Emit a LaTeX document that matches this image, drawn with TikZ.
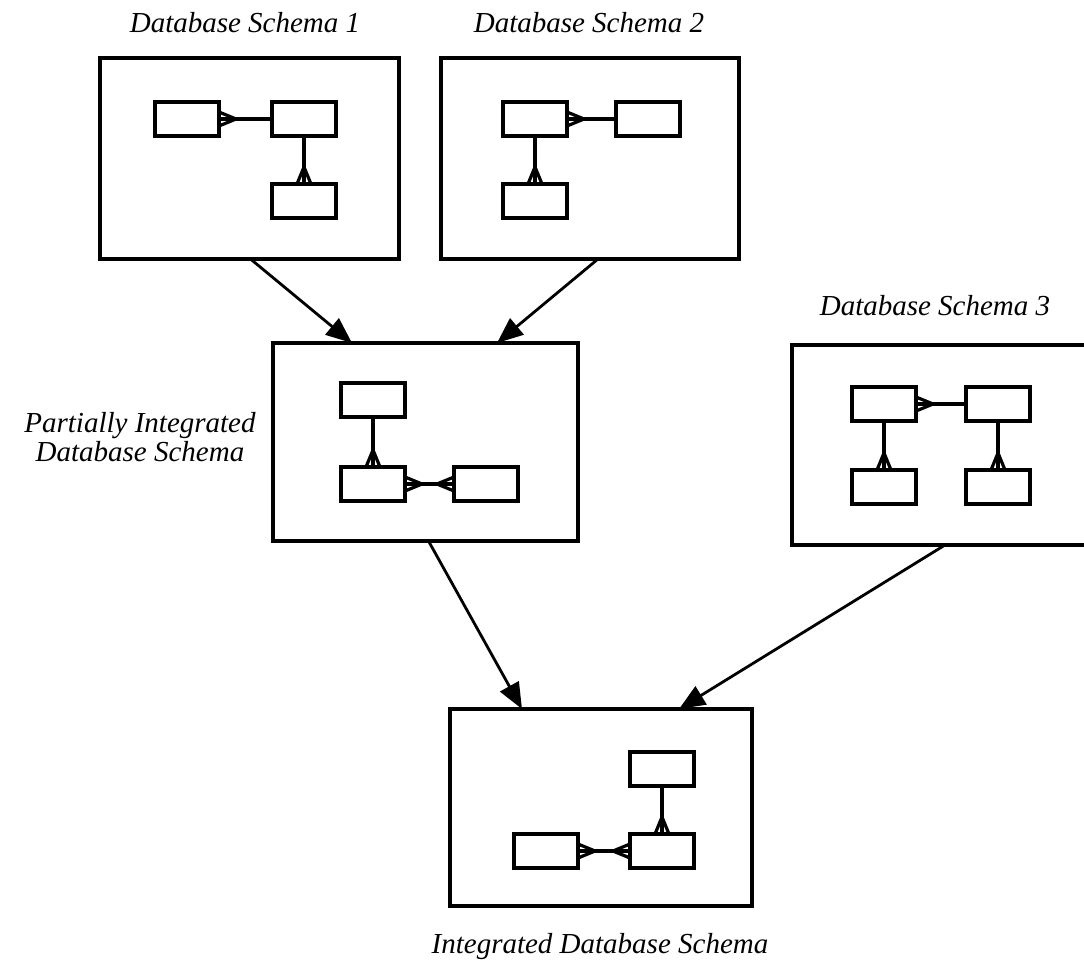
\documentclass[tikz,border=0pt]{standalone}
\usepackage{fontspec}
\setmainfont{Liberation Serif}
\usetikzlibrary{calc,arrows.meta}

% crow's foot: #1 anchor on the box, #2 offset to the tip, #3 half spread
\newcommand{\crowfoot}[3]{%
  \draw[relline] ($#1+#2$) -- ($#1+#3$) ($#1+#2$) -- ($#1-#3$);}

\begin{document}
\begin{tikzpicture}[x=1pt,y=-1pt,
  schemabox/.style={draw, line width=3.4pt, inner sep=0pt, outer sep=0pt},
  entity/.style={draw, line width=3.4pt, minimum width=64pt, minimum height=34pt,
    inner sep=0pt, outer sep=0pt},
  relline/.style={line width=3.2pt},
  flow/.style={line width=2.8pt, -{Triangle[length=26pt,width=21pt]}},
  caption/.style={font=\fontsize{29}{30}\selectfont\itshape, anchor=base,
    inner sep=0pt, align=center}]
\clip (0,0) rectangle (1084,961);
\fill[white] (0,0) rectangle (1084,961);

% schema containers
\node[schemabox, minimum width=299pt, minimum height=201pt] (db1) at (249.5,158.5) {};
\node[schemabox, minimum width=298pt, minimum height=201pt] (db2) at (590,158.5) {};
\node[schemabox, minimum width=305pt, minimum height=198pt] (part) at (425.5,442) {};
\node[schemabox, minimum width=320pt, minimum height=200pt] (db3) at (952,445) {};
\node[schemabox, minimum width=302pt, minimum height=197pt] (integ) at (601,807.5) {};

% captions
\node[caption] (t1) at (245,32) {Database Schema 1};
\node[caption] (t2) at (589,32) {Database Schema 2};
\node[caption] (t3) at (935,315) {Database Schema 3};
\node[caption] (tp) at (140,461) {Partially Integrated\\[-1pt]Database Schema};
\node[caption] (ti) at (600,953) {Integrated Database Schema};

% schema 1
\node[entity] (s1a) at (187,119) {};
\node[entity] (s1b) at (304,119) {};
\node[entity] (s1c) at (304,201) {};
\draw[relline] (s1a) -- (s1b);
\draw[relline] (s1b) -- (s1c);
\crowfoot{(s1a.east)}{(17,0)}{(0,7)}
\crowfoot{(s1c.north)}{(0,-17)}{(7,0)}

% schema 2
\node[entity] (s2a) at (535,119) {};
\node[entity] (s2b) at (648,119) {};
\node[entity] (s2c) at (535,201) {};
\draw[relline] (s2a) -- (s2b);
\draw[relline] (s2a) -- (s2c);
\crowfoot{(s2a.east)}{(17,0)}{(0,7)}
\crowfoot{(s2c.north)}{(0,-17)}{(7,0)}

% partially integrated schema
\node[entity] (pa) at (373,400) {};
\node[entity] (pb) at (373,484) {};
\node[entity] (pc) at (486,484) {};
\draw[relline] (pa) -- (pb);
\draw[relline] (pb) -- (pc);
\crowfoot{(pb.north)}{(0,-17)}{(7,0)}
\crowfoot{(pb.east)}{(17,0)}{(0,7)}
\crowfoot{(pc.west)}{(-17,0)}{(0,7)}

% schema 3
\node[entity] (s3a) at (884,404) {};
\node[entity] (s3b) at (998,404) {};
\node[entity] (s3c) at (884,487) {};
\node[entity] (s3d) at (998,487) {};
\draw[relline] (s3a) -- (s3b);
\draw[relline] (s3a) -- (s3c);
\draw[relline] (s3b) -- (s3d);
\crowfoot{(s3a.east)}{(17,0)}{(0,7)}
\crowfoot{(s3c.north)}{(0,-17)}{(7,0)}
\crowfoot{(s3d.north)}{(0,-17)}{(7,0)}

% integrated schema
\node[entity] (ia) at (662,769) {};
\node[entity] (ib) at (662,851) {};
\node[entity] (ic) at (546,851) {};
\draw[relline] (ia) -- (ib);
\draw[relline] (ic) -- (ib);
\crowfoot{(ib.north)}{(0,-17)}{(7,0)}
\crowfoot{(ic.east)}{(17,0)}{(0,7)}
\crowfoot{(ib.west)}{(-17,0)}{(0,7)}

% integration flow
\draw[flow] ([xshift=1pt]db1.south) -- ([xshift=79pt]part.north west);
\draw[flow] ([xshift=8pt]db2.south) -- ([xshift=224pt]part.north west);
\draw[flow] ([xshift=3pt]part.south) -- ([xshift=72pt]integ.north west);
\draw[flow] ([xshift=153pt]db3.south west) -- ([xshift=229pt]integ.north west);
\end{tikzpicture}
\end{document}
